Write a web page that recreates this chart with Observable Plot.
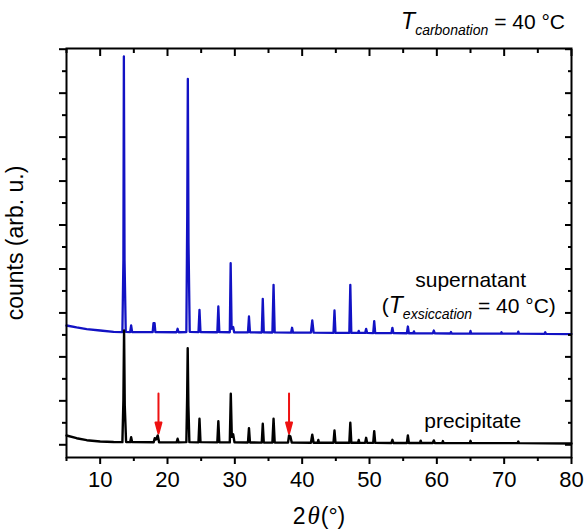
<!DOCTYPE html>
<html><head><meta charset="utf-8">
<script src="https://cdn.jsdelivr.net/npm/d3@7"></script>
<script src="https://cdn.jsdelivr.net/npm/@observablehq/plot@0.6"></script>
<style>body{margin:0;background:#fff}</style>
</head><body><div id="chart"></div>
<script>
// 2θ (°), counts (arb. u., supernatant shown with its offset)
const supernatant = [[5,2714],[6.5,2670],[8,2634],[10,2600],[12,2570],[13.3,2565],[13.45,4200],[13.52,8834],[13.62,4200],[13.8,2570],[14.45,2565],[14.6,2714],[14.75,2565],[17.8,2562],[17.92,2766],[18.08,2766],[18.2,2562],[21.35,2560],[21.5,2640],[21.65,2560],[22.8,2565],[22.93,5200],[23.02,8327],[23.12,4600],[23.3,2570],[24.6,2562],[24.75,3071],[24.9,2565],[27.4,2560],[27.55,3146],[27.7,2562],[29.25,2560],[29.38,4131],[29.52,2640],[29.75,2680],[29.9,2560],[31.95,2558],[32.1,2919],[32.25,2560],[34.0,2555],[34.15,3322],[34.3,2556],[35.58,2555],[35.75,3640],[35.92,2556],[38.35,2550],[38.5,2662],[38.65,2550],[41.3,2550],[41.5,2828],[41.7,2550],[44.65,2545],[44.8,3055],[44.95,2545],[47.0,2545],[47.15,3640],[47.3,2545],[48.3,2545],[48.4,2590],[48.5,2545],[49.35,2545],[49.5,2639],[49.65,2545],[50.55,2542],[50.7,2812],[50.85,2542],[53.25,2540],[53.4,2662],[53.55,2540],[55.55,2538],[55.7,2691],[55.85,2538],[56.5,2538],[56.6,2580],[56.7,2538],[59.4,2535],[59.55,2600],[59.7,2535],[62,2532],[62.1,2565],[62.2,2532],[64.9,2530],[65,2590],[65.1,2530],[69.5,2528],[69.6,2560],[69.7,2528],[72,2527],[72.1,2575],[72.2,2527],[76,2525],[76.1,2560],[76.2,2525],[80,2520]];
const precipitate = [[5,212],[6.5,150],[8,105],[10,75],[12,62],[13.3,60],[13.45,1000],[13.55,2600],[13.65,900],[13.85,65],[14.45,60],[14.6,173],[14.75,60],[17.95,58],[18.1,150],[18.3,120],[18.55,212],[18.75,58],[21.35,56],[21.5,137],[21.65,56],[22.8,60],[22.92,1100],[23.0,2198],[23.1,900],[23.25,60],[24.6,56],[24.75,592],[24.9,60],[27.4,55],[27.55,537],[27.7,58],[29.25,55],[29.4,1160],[29.55,180],[29.75,240],[29.95,55],[31.95,52],[32.1,378],[32.25,52],[34.0,50],[34.15,478],[34.3,52],[35.58,50],[35.75,592],[35.92,52],[37.9,50],[38.05,212],[38.25,190],[38.45,50],[41.3,48],[41.5,228],[41.7,48],[42.3,48],[42.4,110],[42.5,48],[44.65,46],[44.8,325],[44.95,46],[47.0,45],[47.15,500],[47.3,45],[48.3,45],[48.4,110],[48.5,45],[49.35,44],[49.5,159],[49.65,44],[50.55,43],[50.7,309],[50.85,43],[53.25,42],[53.4,114],[53.55,42],[55.55,41],[55.7,212],[55.85,41],[57.5,40],[57.6,95],[57.7,40],[59.4,40],[59.55,100],[59.7,40],[60.8,39],[60.9,85],[61.0,39],[64.9,38],[65,90],[65.1,38],[72,37],[72.1,75],[72.2,37],[80,30]];

const xMajorTicks = [10, 20, 30, 40, 50, 60, 70, 80];
const xMinorTicks = [5, 15, 25, 35, 45, 55, 65, 75];
const yMajorTicks = [0, 1000, 2000, 3000, 4000, 5000, 6000, 7000, 8000, 9000];
const yMinorTicks = [500, 1500, 2500, 3500, 4500, 5500, 6500, 7500, 8500];
const arrowX = [18.66, 38.05];
const arrowTipY = [257, 257];

const arrowShape = {
  draw(ctx, l) {
    ctx.moveTo(0, 0); ctx.lineTo(0, -l + 10);
    ctx.moveTo(0, -l); ctx.lineTo(-3, -l + 11); ctx.lineTo(3, -l + 11); ctx.closePath();
  }
};
const none = () => "";

const plot = Plot.plot({
  width: 585, height: 532,
  marginLeft: 66, marginRight: 14, marginTop: 48, marginBottom: 75,
  style: {fontFamily: "'Liberation Sans', Arial, sans-serif", fontSize: "22px", color: "#000", background: "#fff", overflow: "visible"},
  x: {domain: [5, 80], label: null},
  y: {domain: [-289, 9016], label: null},
  marks: [
    Plot.line(supernatant, {x: d => d[0], y: d => d[1], stroke: "#1212c4", strokeWidth: 2.3, strokeLinejoin: "round"}),
    Plot.line(precipitate, {x: d => d[0], y: d => d[1], stroke: "#000", strokeWidth: 2.4, strokeLinejoin: "round"}),
    Plot.vector(arrowX.map((x, i) => ({x, y: arrowTipY[i]})), {x: "x", y: "y", length: 40, rotate: 180, anchor: "end", shape: arrowShape, stroke: "#ee1111", fill: "#ee1111", strokeWidth: 2}),
    Plot.axisX({ticks: xMajorTicks, tickSize: 7, tickPadding: 7, strokeWidth: 2, fontSize: 22, label: null}),
    Plot.axisX({ticks: xMinorTicks, tickSize: 4, strokeWidth: 2, tickFormat: none, label: null}),
    Plot.axisX({anchor: "top", ticks: xMajorTicks, tickSize: -7, strokeWidth: 2, tickFormat: none, label: null}),
    Plot.axisX({anchor: "top", ticks: xMinorTicks, tickSize: -4, strokeWidth: 2, tickFormat: none, label: null}),
    Plot.axisY({ticks: yMajorTicks, tickSize: 7, strokeWidth: 2, tickFormat: none, label: null}),
    Plot.axisY({ticks: yMinorTicks, tickSize: 4, strokeWidth: 2, tickFormat: none, label: null}),
    Plot.axisY({anchor: "right", ticks: yMajorTicks, tickSize: -7, strokeWidth: 2, tickFormat: none, label: null}),
    Plot.axisY({anchor: "right", ticks: yMinorTicks, tickSize: -4, strokeWidth: 2, tickFormat: none, label: null}),
    Plot.frame({stroke: "#000", strokeWidth: 2})
  ]
});

const sx = plot.scale("x"), sy = plot.scale("y");
const svg = d3.select(plot);
const g = svg.append("g").attr("font-family", "'Liberation Sans', Arial, sans-serif").attr("fill", "#000");

function subLabel(x, y, main, sub, rest, anchor, prefix) {
  const t = g.append("text").attr("x", x).attr("y", y).attr("text-anchor", anchor).attr("font-size", 21);
  if (prefix) t.append("tspan").text(prefix);
  t.append("tspan").attr("font-style", "italic").attr("font-size", 23).text(main);
  t.append("tspan").attr("font-style", "italic").attr("font-size", 14).attr("dy", 6).text(sub);
  t.append("tspan").attr("dy", -6).text(rest);
}

// title
subLabel(565, 29, "T", "carbonation", " = 40 °C", "end");

// series labels
g.append("text").attr("x", sx.apply(65.1)).attr("y", sy.apply(3580)).attr("text-anchor", "middle").attr("font-size", 21).text("supernatant");
subLabel(sx.apply(51.9), sy.apply(2987), "T", "exsiccation", " = 40 °C)", "start", "(");
g.append("text").attr("x", sx.apply(65.4)).attr("y", sy.apply(371)).attr("text-anchor", "middle").attr("font-size", 21).text("precipitate");

// axis labels
const xl = g.append("text").attr("x", 319).attr("y", 524).attr("text-anchor", "middle").attr("font-size", 23);
xl.append("tspan").text("2");
xl.append("tspan").attr("dx", 2).attr("font-family", "'Liberation Serif', 'Times New Roman', serif").attr("font-style", "italic").attr("font-size", 25).text("θ");
xl.append("tspan").attr("dx", 1).text("(°)");
g.append("text").attr("transform", "translate(23,243) rotate(-90)").attr("text-anchor", "middle").attr("font-size", 23).text("counts (arb. u.)");

document.getElementById("chart").appendChild(plot);
</script>
</body></html>
